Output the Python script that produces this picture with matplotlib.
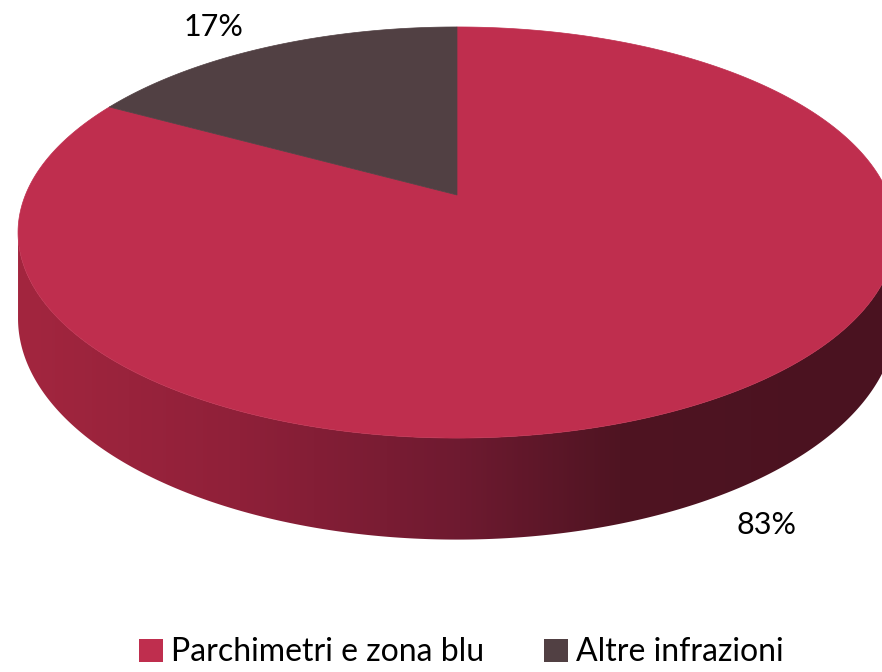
import numpy as np
import matplotlib
matplotlib.use("Agg")
import matplotlib.pyplot as plt
from matplotlib.patches import Polygon, Patch
from matplotlib.colors import to_rgb

plt.rcParams['font.family'] = ['Lato', 'DejaVu Sans']

# data
labels = ["Parchimetri e zona blu", "Altre infrazioni"]
values = [83, 17]
top_colors = ["#bf2e4e", "#514043"]

# projection of the tilted disc (pixel space)
cx, cy = 457, 195
A, B, k = 431.6, 198.7, 0.1825
depth = 83


def proj(theta, z=0.0):
    t = np.radians(theta)
    u, v = np.cos(t), -np.sin(t)
    w = 1 - k * v
    return cx + A * u / w, cy + (B * v + z) / w


# side gradient (dark towards the right)
grad_x = [18, 240, 460, 620, 882]
grad_c = [to_rgb(c) for c in ["#a3263f", "#8f2039", "#6e1a30", "#4f1422", "#4a1220"]]

fig = plt.figure(figsize=(8.82, 6.72), dpi=100)
ax = fig.add_axes([0, 0, 1, 1])
ax.set_xlim(0, 882)
ax.set_ylim(672, 0)
ax.axis('off')

total = sum(values)
start = 90.0
slices = []
for val in values:
    end = start - 360.0 * val / total
    slices.append((start, end))
    start = end

# side wall: gradient image clipped to the visible outline
edge = np.degrees(np.arcsin(k))
th = np.linspace(180 + edge, 360 - edge, 600)
tx, ty = proj(th)
bx, by = proj(th[::-1], depth)
side = Polygon(list(zip(tx, ty)) + list(zip(bx, by)), closed=True,
               facecolor='none', edgecolor='none')
ax.add_patch(side)
xs = np.arange(0, 882)
grad = np.stack([np.interp(xs, grad_x, [c[i] for c in grad_c]) for i in range(3)], axis=-1)
img = ax.imshow(np.tile(grad[None, :, :], (2, 1, 1)), extent=[0, 882, 672, 0],
                aspect='auto', interpolation='bilinear', zorder=1)
img.set_clip_path(side)

# top faces
for (a0, a1), col in zip(slices, top_colors):
    t = np.linspace(a0, a1, 400)
    x, y = proj(t)
    pts = [(cx, cy)] + list(zip(x, y))
    ax.add_patch(Polygon(pts, closed=True, facecolor=col, edgecolor=col,
                         linewidth=0.5, zorder=2))

# percentage labels
label_pos = [(767, 525), (213, 27)]
for val, (lx, ly) in zip(values, label_pos):
    ax.text(lx, ly, f"{val / total * 100:.0f}%", ha='center', va='center',
            fontsize=22, color='#000000', zorder=3)

handles = [Patch(facecolor=c, edgecolor='none') for c in top_colors]
fig.legend(handles, labels, loc='lower center', bbox_to_anchor=(0.523, -0.036), ncol=2,
           frameon=False, fontsize=23, handlelength=0.75,
           handleheight=0.75, handletextpad=0.25, columnspacing=1.9)

fig.savefig("out.png", dpi=100)
